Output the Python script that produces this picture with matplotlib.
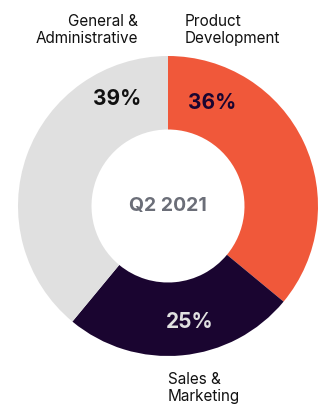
import matplotlib
matplotlib.use("Agg")
import matplotlib.pyplot as plt

# Data
categories = ["Product\nDevelopment", "Sales &\nMarketing", "General &\nAdministrative"]
values = [36, 25, 39]
pct_labels = ["36%", "25%", "39%"]
center_label = "Q2 2021"

colors = ["#F0583A", "#1A0530", "#E0E0E0"]
pct_colors = ["#1A0530", "#E0E0E0", "#111111"]

plt.rcParams['font.family'] = ['Inter', 'DejaVu Sans']

fig = plt.figure(figsize=(3.2, 4.05), dpi=100)
ax = fig.add_axes([0, 0, 1, 1])
ax.set_xlim(0, 320)
ax.set_ylim(0, 405)
ax.set_aspect('equal')
ax.axis('off')

cx, cy, r = 168, 199, 150
wedges, _ = ax.pie(values, colors=colors, startangle=90, counterclock=False,
                   center=(cx, cy), radius=r,
                   wedgeprops=dict(width=r * 0.49, linewidth=0))
ax.set_xlim(0, 320)
ax.set_ylim(0, 405)

# percentage labels inside the ring
pct_pos = [(212, 302), (190, 83), (117, 306)]
for (x, y), txt, c in zip(pct_pos, pct_labels, pct_colors):
    ax.text(x, y, txt, ha='center', va='center', fontsize=15,
            fontweight='bold', color=c)

ax.text(cx, cy, center_label, ha='center', va='center', fontsize=14,
        fontweight='bold', color='#6B6E78')

# category labels
lbl = dict(fontsize=11, color='#111111', linespacing=1.2, va='center')
ax.text(185, 375, categories[0], ha='left', **lbl)
ax.text(168, 17, categories[1], ha='left', **lbl)
ax.text(138, 375, categories[2], ha='right', **lbl)

fig.savefig("out.png", dpi=100, facecolor='white')
